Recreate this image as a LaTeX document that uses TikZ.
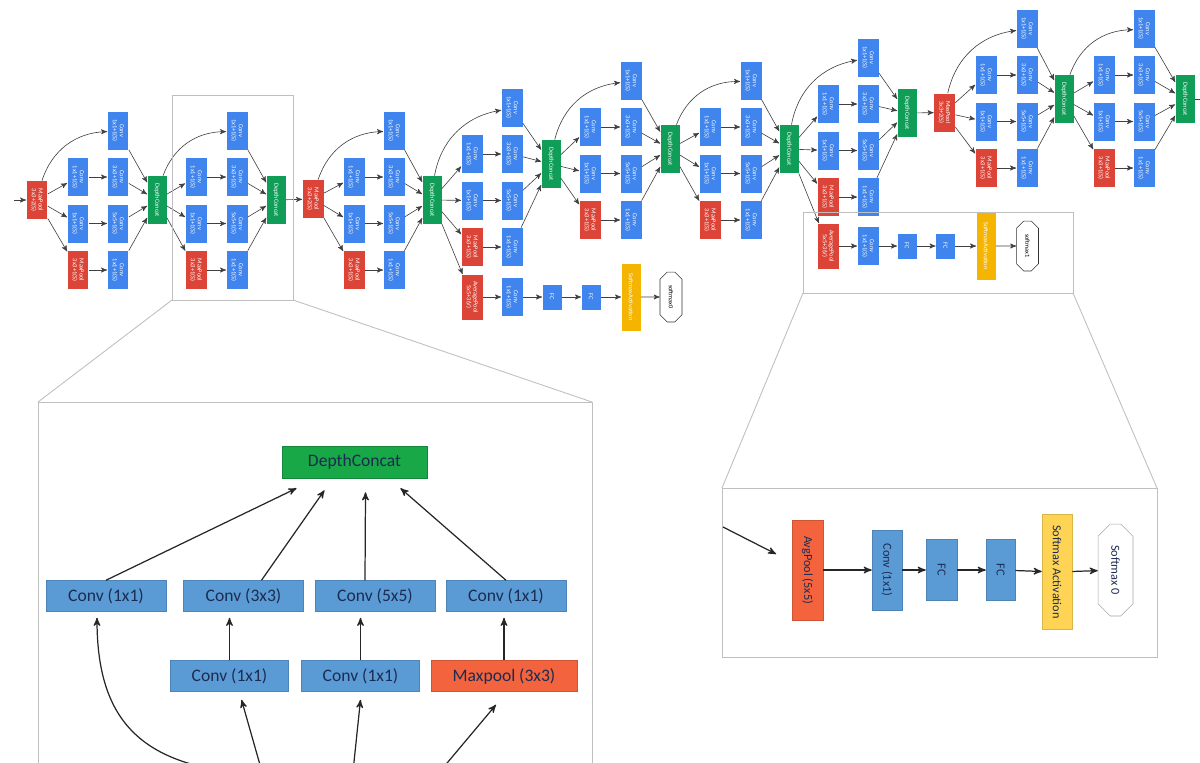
\documentclass[tikz,border=0pt]{standalone}
\usepackage{fontspec}
\setmainfont{Carlito}
\usetikzlibrary{arrows, shapes.misc, calc}

\definecolor{gblue}{RGB}{64,132,238}
\definecolor{gred}{RGB}{219,68,55}
\definecolor{ggreen}{RGB}{15,157,88}
\definecolor{gyellow}{RGB}{244,180,0}
\definecolor{lblue}{RGB}{91,155,213}
\definecolor{lred}{RGB}{242,99,62}
\definecolor{lgreen}{RGB}{24,168,72}
\definecolor{lyellow}{RGB}{255,212,84}
\definecolor{ltext}{RGB}{28,44,80}

\begin{document}
\begin{tikzpicture}[x=0.02cm, y=-0.02cm, >=stealth',
  box/.style={rectangle, inner sep=0pt, rotate=-90, align=center, text=white,
    font=\fontsize{3.6}{3.9}\selectfont},
  conv/.style={box, fill=gblue, minimum width=0.76cm, minimum height=0.42cm},
  pool/.style={conv, fill=gred},
  concat/.style={box, fill=ggreen, minimum width=0.96cm, minimum height=0.38cm},
  avgp/.style={box, fill=gred, minimum width=0.9cm, minimum height=0.42cm},
  fc/.style={box, fill=gblue, minimum width=0.5cm, minimum height=0.38cm},
  act/.style={box, fill=gyellow, minimum width=1.34cm, minimum height=0.38cm},
  soft/.style={box, chamfered rectangle, chamfered rectangle xsep=0.1cm,
    chamfered rectangle ysep=0.1cm, draw=black!80, line width=0.3pt, fill=white,
    text=black, minimum width=1.0cm, minimum height=0.44cm},
  link/.style={->, draw=black!75, line width=0.35pt},
  frame/.style={draw=gray!50, line width=0.5pt},
  big/.style={rectangle, inner sep=0pt, text=ltext, line width=0.3pt,
    font=\fontsize{10}{12}\selectfont, minimum height=0.62cm},
  bconv/.style={big, fill=lblue, draw=lblue!85!black, minimum width=2.4cm},
  bpool/.style={big, fill=lred, draw=lred!85!black, minimum width=2.92cm},
  bcat/.style={big, fill=lgreen, draw=lgreen!80!black, minimum width=2.9cm, minimum height=0.64cm},
  side/.style={big, rotate=-90, font=\fontsize{7}{8}\selectfont},
  arr/.style={->, draw=black!85, line width=0.7pt}]

  \useasboundingbox (0,0) rectangle (1200,762);
  \clip (0,0) rectangle (1200,762);

  % network overview
  \coordinate (start) at (14,200);
  \coordinate (end) at (1200,99);
  \node[pool] (pA) at (37,200) {MaxPool\\3x3+2(S)};
  \node[pool] (pC) at (313,199) {MaxPool\\3x3+2(S)};
  \node[pool] (pH) at (944.5,112.5) {MaxPool\\3x3+2(S)};

  \foreach \m/\src/\xa/\xb/\ry/\gx/\gy in {A/pA/78/118/177/157/200, B/gA/196/237/177/276/200,
      C/pC/354/394/177/432/200, D/gC/472/512/154/551/164, E/gD/590/631/127/670/149,
      F/gE/710/751/127/789/149, G/gF/828/868/104/907/113, H/pH/986/1027/75/1064/99,
      I/gH/1104/1144/75/1185/99} {
    \node[conv] (\m0) at (\xb,\ry-46.5) {Conv\\1x1+1(S)};
    \node[conv] (\m1) at (\xa,\ry) {Conv\\1x1+1(S)};
    \node[conv] (\m2) at (\xa,\ry+46.5) {Conv\\1x1+1(S)};
    \node[pool] (\m3) at (\xa,\ry+93) {MaxPool\\3x3+1(S)};
    \node[conv] (\m4) at (\xb,\ry) {Conv\\3x3+1(S)};
    \node[conv] (\m5) at (\xb,\ry+46.5) {Conv\\5x5+1(S)};
    \node[conv] (\m6) at (\xb,\ry+93) {Conv\\1x1+1(S)};
    \node[concat] (g\m) at (\gx,\gy) {DepthConcat};
    \draw[link] (\src) to[bend left=35] (\m0);
    \draw[link] (\src) -- (\m1);
    \draw[link] (\src) -- (\m2);
    \draw[link] (\src) -- (\m3);
    \draw[link] (\m1) -- (\m4);
    \draw[link] (\m2) -- (\m5);
    \draw[link] (\m3) -- (\m6);
    \foreach \k in {0,4,5,6}
      \draw[link] (\m\k) -- (g\m);
  }

  \draw[link] (start) -- (pA);
  \draw[link] (gB) -- (pC);
  \draw[link] (gG) -- (pH);
  \draw[link, -] (gI) -- (end);

  % auxiliary classifiers
  \node[avgp] (x1) at (472,297) {AveragePool\\5x5+3(V)};
  \node[conv] (x2) at (512,297) {Conv\\1x1+1(S)};
  \node[fc] (x3) at (552,297) {FC};
  \node[fc] (x4) at (591,297) {FC};
  \node[act] (x5) at (631,297) {SoftmaxActivation};
  \node[soft] (x6) at (671,297) {softmax0};
  \node[avgp] (y1) at (828,246) {AveragePool\\5x5+3(V)};
  \node[conv] (y2) at (868,246) {Conv\\1x1+1(S)};
  \node[fc] (y3) at (907,246) {FC};
  \node[fc] (y4) at (945.5,246) {FC};
  \node[act] (y5) at (986,246) {SoftmaxActivation};
  \node[soft] (y6) at (1027.5,246) {softmax1};
  \draw[link] (gC) -- (x1);
  \draw[link] (gF) -- (y1);
  \foreach \a/\b in {1/2,2/3,3/4,4/5,5/6} {
    \draw[link] (x\a) -- (x\b);
    \draw[link] (y\a) -- (y\b);
  }

  % zoom frames
  \draw[frame] (172,95) rectangle (293,300);
  \draw[frame] (803,212) rectangle (1073,293);
  \draw[frame] (172,300) -- (38,402);
  \draw[frame] (293,300) -- (592,402);
  \draw[frame] (803,293) -- (722,488);
  \draw[frame] (1073,293) -- (1157,488);
  \draw[frame] (38,800) -- (38,402) -- (592,402) -- (592,800);
  \draw[frame] (722,488) rectangle (1157,657);

  % inception module
  \node[bcat] (dc) at (354.5,462) {DepthConcat};
  \node[bconv] (ca) at (106,596) {Conv (1x1)};
  \node[bconv] (cb) at (243.5,596) {Conv (3x3)};
  \node[bconv] (cc) at (375,596) {Conv (5x5)};
  \node[bconv] (cd) at (506,596) {Conv (1x1)};
  \node[bconv, minimum width=2.36cm] (da) at (229.5,676) {Conv (1x1)};
  \node[bconv, minimum width=2.36cm] (db) at (360.5,676) {Conv (1x1)};
  \node[bpool] (mp) at (504,676) {Maxpool (3x3)};
  \coordinate (s0) at (300,776);
  \coordinate (s1) at (270,800);
  \coordinate (s2) at (350,800);
  \coordinate (s3) at (416,800);

  \draw[arr] (ca.north) -- ($(dc.south)+(-58,10)$);
  \draw[arr] ($(cb.north)+(18,0)$) -- ($(dc.south)+(-30,12)$);
  \draw[arr] ($(cc.north)+(-10,0)$) -- ($(dc.south)+(11,14)$);
  \draw[arr] (cd.north) -- ($(dc.south)+(46,10)$);
  \draw[arr] (da.north) -- ($(da.north |- cb.south)+(0,6)$);
  \draw[arr] (db.north) -- ($(db.north |- cc.south)+(0,6)$);
  \draw[arr] (mp.north) -- ($(mp.north |- cd.south)+(0,6)$);
  \draw[arr] (s0) .. controls (160,776) and (97,740) .. ($(ca.south)+(-9,6)$);
  \draw[arr] (s1) -- ($(da.south)+(12,8)$);
  \draw[arr] (s2) -- ($(db.south)+(0,8)$);
  \draw[arr] (s3) -- ($(mp.south)+(-8,13)$);

  % auxiliary classifier
  \coordinate (side in) at (723,527);
  \node[side, fill=lred, draw=lred!85!black, minimum width=2.0cm, minimum height=0.62cm] (ap) at (807.5,570) {AvgPool (5x5)};
  \node[side, fill=lblue, draw=lblue!85!black, minimum width=1.6cm, minimum height=0.6cm] (cv) at (887,570) {Conv (1x1)};
  \node[side, fill=lblue, draw=lblue!85!black, minimum width=1.22cm, minimum height=0.62cm] (fa) at (941.5,570) {FC};
  \node[side, fill=lblue, draw=lblue!85!black, minimum width=1.22cm, minimum height=0.58cm] (fb) at (1000.5,570) {FC};
  \node[side, fill=lyellow, draw=lyellow!85!black, minimum width=2.3cm, minimum height=0.6cm] (sa) at (1057,572) {Softmax Activation};
  \node[side, chamfered rectangle, chamfered rectangle xsep=0.16cm, chamfered rectangle ysep=0.16cm,
    fill=white, draw=gray!70, minimum width=1.84cm, minimum height=0.7cm] (so) at (1115.5,570) {Softmax 0};
  \draw[arr, shorten >=10pt] (side in) -- (ap);
  \draw[arr] (ap) -- (cv);
  \draw[arr] (cv) -- (fa);
  \draw[arr] (fa) -- (fb);
  \draw[arr] (fb) -- (sa);
  \draw[arr] (sa) -- (so);
\end{tikzpicture}
\end{document}
